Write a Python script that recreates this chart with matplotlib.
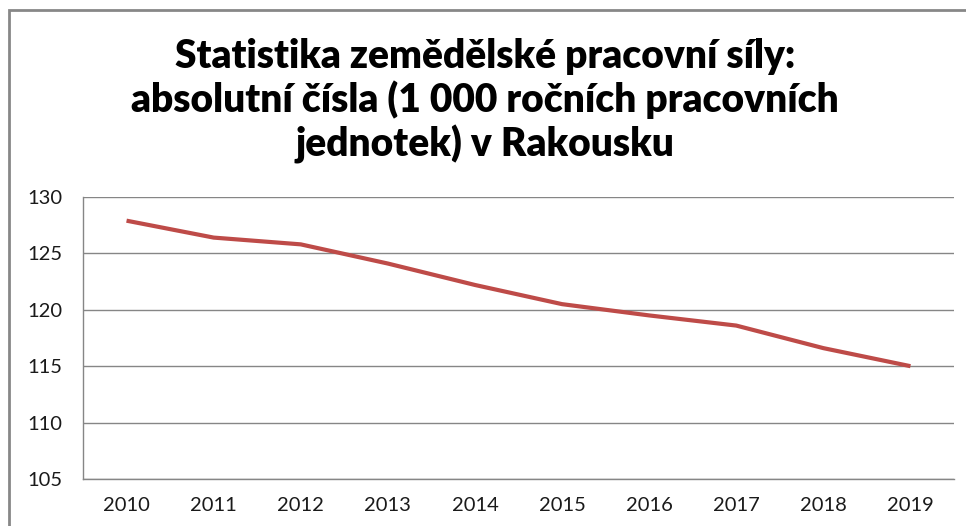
import matplotlib.pyplot as plt
from matplotlib.patches import Rectangle

plt.rcParams['font.family'] = ['Lato', 'DejaVu Sans']

years = ['2010', '2011', '2012', '2013', '2014', '2015', '2016', '2017', '2018', '2019']
workforce = [127.9, 126.4, 125.8, 124.1, 122.2, 120.5, 119.5, 118.6, 116.6, 115.0]
y_ticks = [105, 110, 115, 120, 125, 130]

title = 'Statistika zemědělské pracovní síly:\nabsolutní čísla (1 000 ročních pracovních\njednotek) v Rakousku'

fig = plt.figure(figsize=(9.66, 5.26), dpi=100)
ax = fig.add_axes([0.0859, 0.0894, 0.9017, 0.5361])

x = list(range(len(years)))
ax.plot(x, workforce, color='#BE4B48', lw=3, solid_capstyle='butt')

ax.set_xlim(-0.5, len(years) - 0.5)
ax.set_ylim(105, 130)
ax.set_yticks(y_ticks)
ax.set_xticks(x)
ax.set_xticklabels(years)
ax.yaxis.grid(True, color='#868686', lw=1)
ax.set_axisbelow(True)
ax.tick_params(length=0, labelsize=14.5, colors='#1a1a1a')
ax.tick_params(axis='y', pad=15)
ax.tick_params(axis='x', pad=13)
for s in ['top', 'right']:
    ax.spines[s].set_visible(False)
for s in ['left', 'bottom']:
    ax.spines[s].set_color('#868686')
    ax.spines[s].set_linewidth(1)

fig.text(0.502, 0.808, title, ha='center', va='center', fontsize=28,
         fontweight='heavy', linespacing=1.17)

# grey border of the chart (cut off on the right and bottom)
fig.patches.append(Rectangle((0.0093, -0.05), 1.1, 1.031, transform=fig.transFigure,
                             fill=False, edgecolor='#878787', lw=2))

fig.savefig('out.png', dpi=100)
